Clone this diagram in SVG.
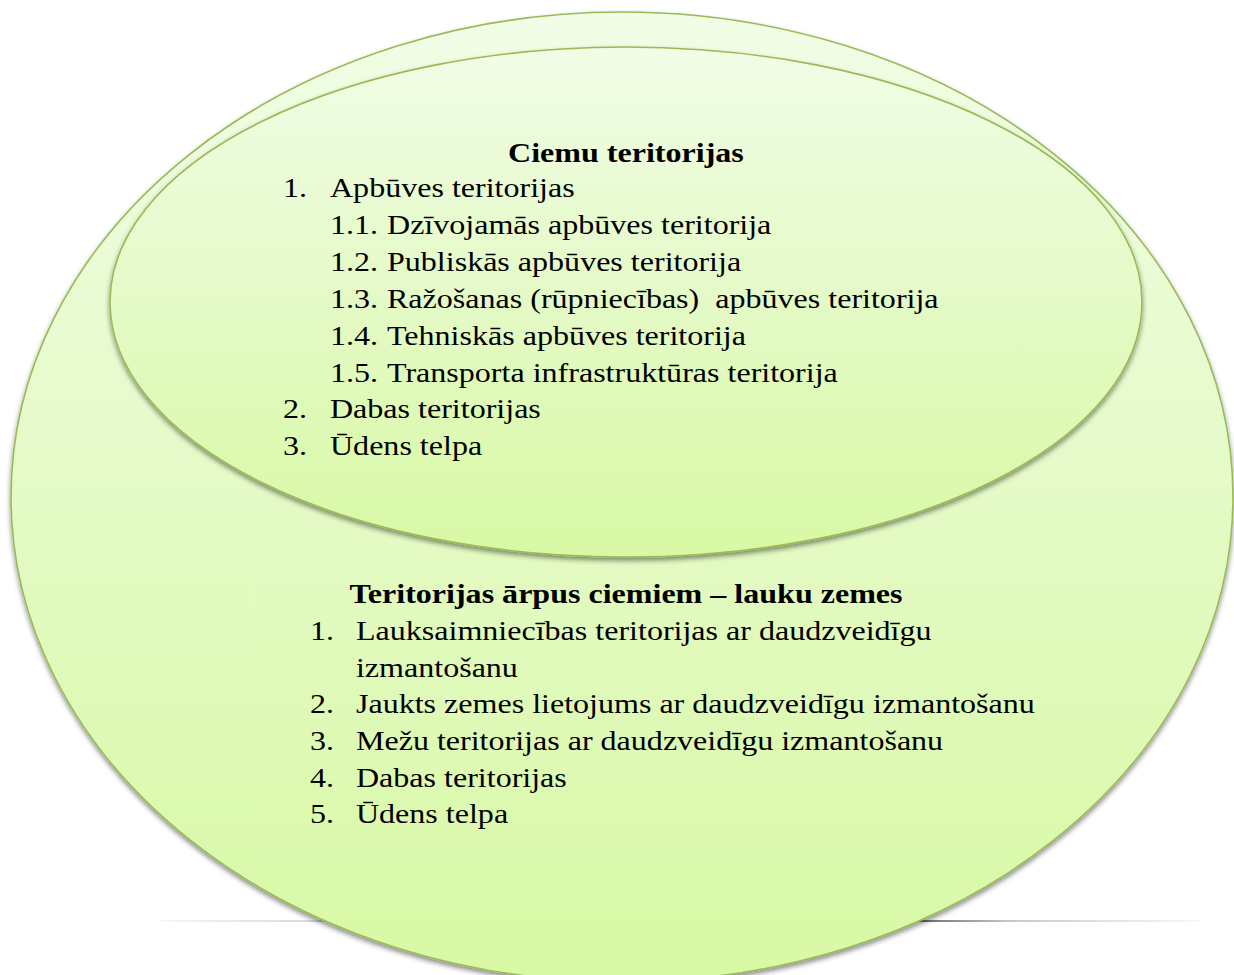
<svg xmlns="http://www.w3.org/2000/svg" width="1234" height="975" viewBox="0 0 1234 975">
  <defs>
    <linearGradient id="gOuter" x1="0" y1="0" x2="0" y2="1">
      <stop offset="0" stop-color="#f1fde6"/>
      <stop offset="0.5" stop-color="#e4fac6"/>
      <stop offset="1" stop-color="#d8f9a4"/>
    </linearGradient>
    <linearGradient id="gInner" x1="0" y1="0" x2="0" y2="1">
      <stop offset="0" stop-color="#f1fde6"/>
      <stop offset="0.5" stop-color="#e4fac6"/>
      <stop offset="1" stop-color="#d8f9a4"/>
    </linearGradient>
    <linearGradient id="gLine" gradientUnits="userSpaceOnUse" x1="160" y1="0" x2="1200" y2="0">
      <stop offset="0" stop-color="#f4f4f4"/>
      <stop offset="0.163" stop-color="#c8c8c8"/>
      <stop offset="0.5" stop-color="#888888"/>
      <stop offset="0.734" stop-color="#444444"/>
      <stop offset="0.82" stop-color="#b8b8b8"/>
      <stop offset="1" stop-color="#f6f6f6"/>
    </linearGradient>
    <filter id="shadow" x="-5%" y="-5%" width="110%" height="112%">
      <feDropShadow dx="0" dy="3" stdDeviation="2.5" flood-color="#000" flood-opacity="0.45"/>
    </filter>
    <style>
      .shape { stroke: #98bb55; stroke-width: 1.6; filter: url(#shadow); }
      .t { font-family: "Liberation Serif", "Times New Roman", serif; font-size: 28px; fill: #000; }
      .b { font-weight: bold; text-anchor: middle; }
    </style>
  </defs>

  <g id="connectors">
    <line x1="160" y1="921" x2="1200" y2="921" stroke="url(#gLine)" stroke-width="1.5"/>
  </g>

  <g id="outer">
    <ellipse class="shape" cx="622" cy="497" rx="611" ry="485" fill="url(#gOuter)"/>
  </g>

  <g id="inner">
    <ellipse class="shape" cx="626" cy="302" rx="516" ry="255" fill="url(#gInner)"/>
  </g>

  <g id="inner-text" transform="scale(1.145 1)">
    <text class="t b" x="546.7" y="162">Ciemu teritorijas</text>
    <text class="t" x="247.2" y="197">1.</text>
    <text class="t" x="288.2" y="197">Apbūves teritorijas</text>
    <text class="t" x="288.2" y="234">1.1.</text>
    <text class="t" x="338" y="234">Dzīvojamās apbūves teritorija</text>
    <text class="t" x="288.2" y="271">1.2.</text>
    <text class="t" x="338" y="271">Publiskās apbūves teritorija</text>
    <text class="t" x="288.2" y="308">1.3.</text>
    <text class="t" x="338" y="308" xml:space="preserve">Ražošanas (rūpniecības)  apbūves teritorija</text>
    <text class="t" x="288.2" y="345">1.4.</text>
    <text class="t" x="338" y="345">Tehniskās apbūves teritorija</text>
    <text class="t" x="288.2" y="382">1.5.</text>
    <text class="t" x="338" y="382">Transporta infrastruktūras teritorija</text>
    <text class="t" x="247.2" y="418">2.</text>
    <text class="t" x="288.2" y="418">Dabas teritorijas</text>
    <text class="t" x="247.2" y="455">3.</text>
    <text class="t" x="288.2" y="455">Ūdens telpa</text>
  </g>

  <g id="outer-text" transform="scale(1.145 1)">
    <text class="t b" x="546.7" y="603">Teritorijas ārpus ciemiem – lauku zemes</text>
    <text class="t" x="270.7" y="640">1.</text>
    <text class="t" x="310.9" y="640">Lauksaimniecības teritorijas ar daudzveidīgu</text>
    <text class="t" x="310.9" y="677">izmantošanu</text>
    <text class="t" x="270.7" y="713">2.</text>
    <text class="t" x="310.9" y="713">Jaukts zemes lietojums ar daudzveidīgu izmantošanu</text>
    <text class="t" x="270.7" y="750">3.</text>
    <text class="t" x="310.9" y="750">Mežu teritorijas ar daudzveidīgu izmantošanu</text>
    <text class="t" x="270.7" y="787">4.</text>
    <text class="t" x="310.9" y="787">Dabas teritorijas</text>
    <text class="t" x="270.7" y="823">5.</text>
    <text class="t" x="310.9" y="823">Ūdens telpa</text>
  </g>
</svg>
